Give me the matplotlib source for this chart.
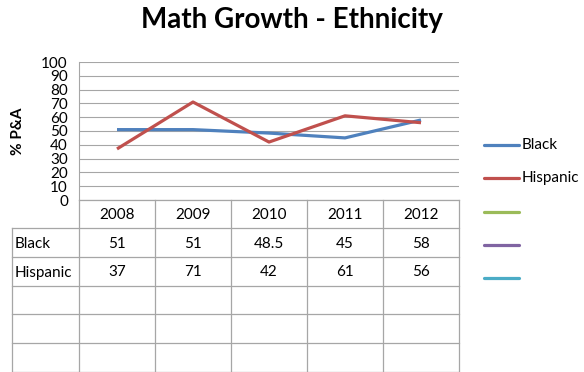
import matplotlib.pyplot as plt

# Data
years = ["2008", "2009", "2010", "2011", "2012"]
black = [51, 51, 48.5, 45, 58]
hispanic = [37, 71, 42, 61, 56]
series_names = ["Black", "Hispanic"]
yticks = list(range(0, 101, 10))

blue = "#4F81BD"
red = "#C0504D"
green = "#9BBB59"
purple = "#8064A2"
cyan = "#4BACC6"
grid_c = "#A6A6A6"
table_c = "#A6A6A6"
font = "Lato"

W, H = 584, 372
fig = plt.figure(figsize=(W / 100, H / 100), dpi=100)

# pixel layout
x0, x1 = 79, 459
y_top, y_bot = 62, 200

ax = fig.add_axes([x0 / W, 1 - y_bot / H, (x1 - x0) / W, (y_bot - y_top) / H])
xs = range(1, len(years) + 1)
ax.plot(xs, black, color=blue, lw=2.3, solid_capstyle="butt", zorder=3)
ax.plot(xs, hispanic, color=red, lw=2.3, solid_capstyle="butt", zorder=3)
ax.set_xlim(0.5, len(years) + 0.5)
ax.set_ylim(0, 100)
ax.set_yticks(yticks)
ax.set_yticklabels([str(t) for t in yticks], fontfamily=font, fontsize=11)
ax.tick_params(axis="y", length=0, pad=8)
ax.set_xticks([])
ax.yaxis.grid(True, color=grid_c, lw=0.8)
for s in ["top", "right", "bottom"]:
    ax.spines[s].set_visible(False)
ax.spines["left"].set_color(grid_c)
ax.set_ylabel("% P&A", fontfamily=font, fontsize=11, fontweight="bold", labelpad=12)

# overlay in pixel coords for table and legend
ov = fig.add_axes([0, 0, 1, 1], facecolor="none")
ov.set_xlim(0, W)
ov.set_ylim(H, 0)
ov.axis("off")

cols = [12, 79, 155, 231, 307, 383, 459]
rows = [200, 228, 257, 286, 314, 343, 371.5]
lk = dict(color=table_c, lw=0.9)
# header row
ov.plot([cols[1], cols[-1]], [rows[0], rows[0]], **lk)
for r in rows[1:]:
    ov.plot([cols[0], cols[-1]], [r, r], **lk)
for c in cols[1:]:
    ov.plot([c, c], [rows[0], rows[-1]], **lk)
ov.plot([cols[0], cols[0]], [rows[1], rows[-1]], **lk)

tk = dict(fontfamily=font, fontsize=11, color="black", va="center")
for i, yr in enumerate(years):
    ov.text((cols[i + 1] + cols[i + 2]) / 2, (rows[0] + rows[1]) / 2 + 1, yr, ha="center", **tk)
for r, (name, vals) in enumerate(zip(series_names, [black, hispanic])):
    yc = (rows[r + 1] + rows[r + 2]) / 2 + 1
    ov.text(cols[0] + 3, yc, name, ha="left", **tk)
    for i, v in enumerate(vals):
        ov.text((cols[i + 1] + cols[i + 2]) / 2, yc, f"{v:g}", ha="center", **tk)

# legend
leg_colors = [blue, red, green, purple, cyan]
leg_labels = series_names + ["", "", ""]
for i, (c, lab) in enumerate(zip(leg_colors, leg_labels)):
    yy = 145 + i * 33.3
    ov.plot([484, 519], [yy, yy], color=c, lw=2.3, solid_capstyle="round")
    ov.text(522, yy, lab, ha="left", va="center", fontfamily=font, fontsize=11)

# title
fig.text(0.5, 1 - 20 / H, "Math Growth - Ethnicity", ha="center", va="center",
         fontfamily=font, fontsize=20, fontweight="bold")

fig.savefig("out.png", dpi=100, facecolor="white")
